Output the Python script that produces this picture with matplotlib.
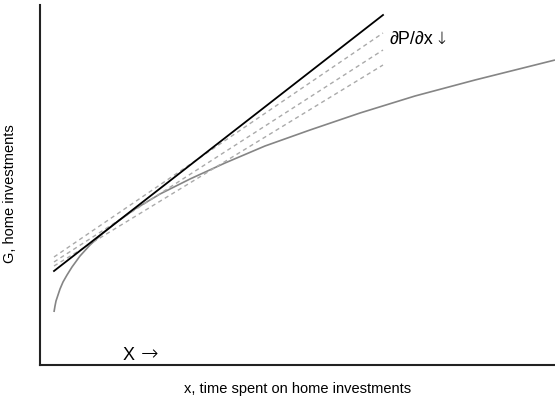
import matplotlib
matplotlib.use("Agg")
import matplotlib.pyplot as plt

plt.rcParams['font.family'] = ['Liberation Sans', 'DejaVu Sans']

# production curve G(x)
curve_x = [14, 15, 16, 18, 20, 23, 27, 32, 40, 50, 62, 77, 95, 120, 150,
           185, 225, 270, 320, 375, 435, 515]
curve_y = [53, 59, 64, 70, 76, 83, 90, 98, 109, 120, 131, 143, 156, 171, 186,
           202, 219, 235, 252, 269, 285, 305]

# tangent line (solid) and the flatter lines (dashed)
line_x = [14, 343]
tangent_y = [94, 350]
dashed_y = [[108, 332], [103, 315], [99, 300]]

fig = plt.figure(figsize=(5.55, 4.03), dpi=100)
ax = fig.add_axes([40/555, 38/403, 515/555, 360/403])

ax.plot(curve_x, curve_y, color='#858585', lw=1.2, solid_capstyle='butt')
for ys in dashed_y:
    ax.plot(line_x, ys, color='#aaaaaa', lw=1.0, ls=(0, (3, 2.5)))
ax.plot(line_x, tangent_y, color='black', lw=1.3)

ax.text(350, 321, '∂P/∂x', fontsize=13, va='baseline', ha='left')
ax.text(394, 321, '↓', fontsize=12, va='baseline', ha='left',
        family='DejaVu Sans', weight='light')
ax.text(83, 5, 'X', fontsize=13, va='baseline', ha='left')
ax.text(101, 5, '→', fontsize=15, va='baseline', ha='left',
        family='DejaVu Sans', weight='light')

ax.set_xlim(0, 515)
ax.set_ylim(0, 360)
ax.set_xticks([])
ax.set_yticks([])
for s in ['top', 'right']:
    ax.spines[s].set_visible(False)
for s in ['left', 'bottom']:
    ax.spines[s].set_linewidth(1.5)
    ax.spines[s].set_color('#222222')

ax.set_xlabel('x, time spent on home investments', fontsize=10.5, labelpad=12)
ax.set_ylabel('G, home investments', fontsize=10.5)
ax.yaxis.set_label_coords(-0.044, 0.475)

fig.savefig('out.png', dpi=100)
